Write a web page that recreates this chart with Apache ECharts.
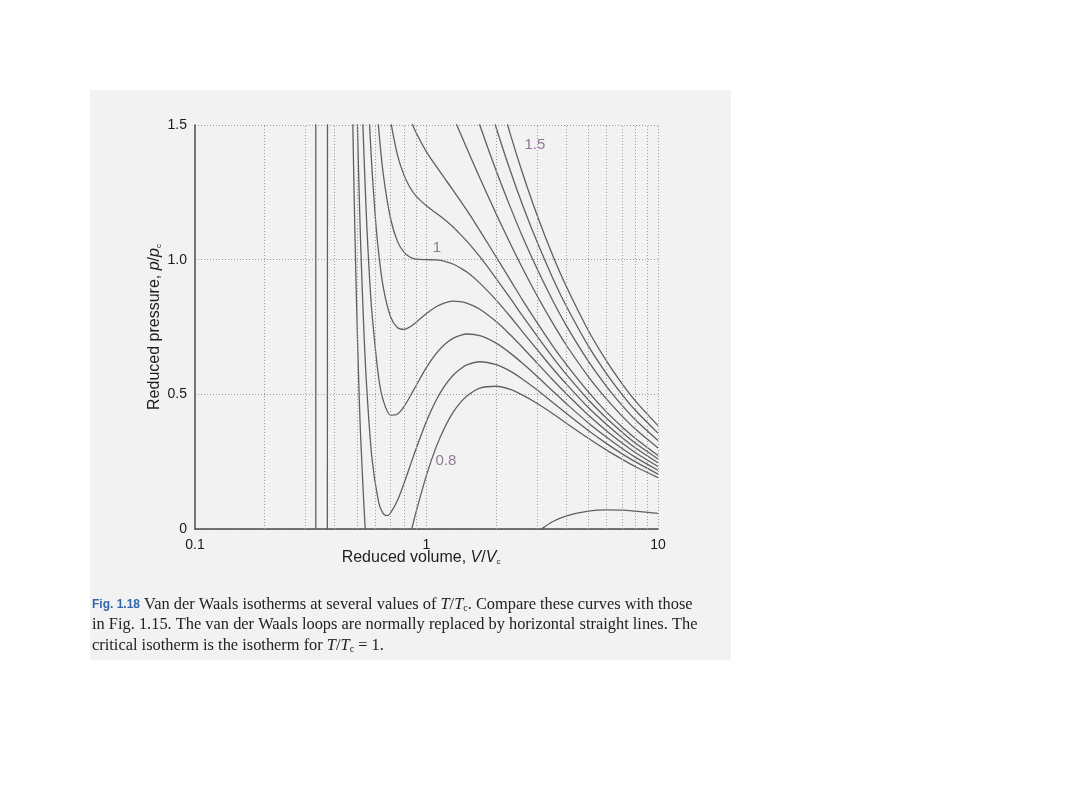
<!DOCTYPE html>
<html><head><meta charset="utf-8">
<script src="https://cdn.jsdelivr.net/npm/echarts@6/dist/echarts.min.js"></script>
<style>html,body{margin:0;padding:0;background:#fff}#c{width:1080px;height:810px}</style>
</head><body><div id="c"></div>
<script>
// ---- Data (reduced volume V/Vc, reduced pressure p/pc) ----
const xTickValues = [0.1, 1, 10];
const yTickLabels = ['0', '0.5', '1.0', '1.5'];
const xGridValues = [0.2,0.3,0.4,0.5,0.6,0.7,0.8,0.9,1,2,3,4,5,6,7,8,9,10];

const lineA_V = [0.3325, 0.3325];
const lineA_p = [-0.05, 1.6];

const lowLeft_V = [0.3735, 0.373];
const lowLeft_p = [1.6, -0.05];
const lowRight_V = [3.0, 3.2, 3.5, 4, 5, 6, 7, 8, 10];
const lowRight_p = [-0.013, 0.005, 0.027, 0.048, 0.066, 0.071, 0.07, 0.066, 0.058];

const t080_V = [0.47,0.48,0.49,0.5,0.51,0.52,0.55,0.58,0.62,0.65,0.7,0.75,0.8,0.85,0.9,1.0,1.1,1.2,1.3,1.4,1.5,1.7,2.0,2.3,2.6,3.0,3.5,4,5,6,7,8,10];
const t080_p = [2.03,1.524,1.122,0.8,0.541,0.334,-0.071,-0.269,-0.362,-0.364,-0.304,-0.213,-0.116,-0.023,0.061,0.2,0.304,0.378,0.432,0.469,0.495,0.523,0.53,0.518,0.497,0.467,0.429,0.394,0.337,0.293,0.259,0.231,0.191];

const t085_V = [0.49,0.5,0.51,0.52,0.535,0.55,0.58,0.62,0.65,0.68,0.7,0.75,0.8,0.85,0.9,1.0,1.1,1.2,1.3,1.4,1.5,1.7,2.0,2.3,2.6,3.0,3.5,4,5,6,7,8,10];
const t085_p = [1.973,1.6,1.296,1.048,0.76,0.545,0.271,0.103,0.057,0.05,0.06,0.107,0.17,0.235,0.296,0.4,0.478,0.532,0.57,0.594,0.61,0.621,0.61,0.586,0.556,0.517,0.471,0.431,0.366,0.317,0.279,0.249,0.204];

const t090_V = [0.51,0.52,0.53,0.55,0.565,0.58,0.62,0.65,0.7,0.75,0.8,0.85,0.9,1.0,1.1,1.2,1.3,1.4,1.5,1.7,2.0,2.3,2.6,3.0,3.5,4,5,6,7,8,10];
const t090_p = [2.05,1.762,1.523,1.16,0.962,0.812,0.568,0.478,0.423,0.427,0.455,0.493,0.531,0.6,0.651,0.686,0.708,0.719,0.724,0.718,0.69,0.653,0.615,0.567,0.513,0.467,0.394,0.341,0.299,0.266,0.218];

const t095_V = [0.53,0.55,0.565,0.58,0.6,0.62,0.65,0.7,0.75,0.8,0.85,0.9,1.0,1.1,1.2,1.3,1.4,1.5,1.7,2.0,2.3,2.6,3.0,3.5,4,5,6,7,8,10];
const t095_p = [2.2,1.775,1.537,1.352,1.167,1.033,0.899,0.787,0.747,0.741,0.751,0.767,0.8,0.825,0.84,0.846,0.844,0.838,0.816,0.77,0.721,0.674,0.617,0.555,0.504,0.423,0.364,0.319,0.283,0.232];

const t100_V = [0.55,0.58,0.6,0.62,0.65,0.7,0.75,0.8,0.85,0.9,1.0,1.1,1.2,1.3,1.4,1.5,1.7,2.0,2.3,2.6,3.0,3.5,4,5,6,7,8,10];
const t100_p = [2.391,1.893,1.667,1.498,1.32,1.151,1.067,1.027,1.009,1.002,1.0,0.999,0.994,0.984,0.969,0.953,0.913,0.85,0.789,0.732,0.667,0.597,0.54,0.451,0.388,0.339,0.301,0.246];

const t105_V = [0.62,0.66,0.68,0.7,0.75,0.8,0.85,0.9,1.0,1.1,1.2,1.3,1.4,1.5,1.7,2.0,2.3,2.6,3.0,3.5,4,5,6,7,8,10];
const t105_p = [1.963,1.684,1.589,1.514,1.387,1.313,1.267,1.237,1.2,1.173,1.148,1.122,1.094,1.067,1.011,0.93,0.857,0.791,0.717,0.639,0.576,0.48,0.411,0.359,0.318,0.26];

const t110_V = [0.7,0.75,0.8,0.85,0.9,1.0,1.1,1.2,1.3,1.4,1.5,1.7,2.0,2.3,2.6,3.0,3.5,4,5,6,7,8,10];
const t110_p = [1.878,1.707,1.598,1.525,1.473,1.4,1.347,1.301,1.259,1.219,1.181,1.108,1.01,0.925,0.85,0.767,0.681,0.613,0.509,0.434,0.379,0.336,0.273];

const t120_V = [1.0,1.1,1.2,1.3,1.4,1.5,1.7,2.0,2.3,2.6,3.0,3.5,4,5,6,7,8,10];
const t120_p = [1.8,1.695,1.609,1.535,1.469,1.41,1.303,1.17,1.06,0.968,0.867,0.766,0.685,0.566,0.482,0.419,0.37,0.301];

const t130_V = [1.4,1.5,1.7,2.0,2.3,2.6,3.0,3.5,4,5,6,7,8,10];
const t130_p = [1.719,1.638,1.499,1.33,1.196,1.085,0.967,0.85,0.758,0.623,0.529,0.459,0.405,0.329];

const t140_V = [1.7,2.0,2.3,2.6,3.0,3.5,4,5,6,7,8,10];
const t140_p = [1.694,1.49,1.331,1.203,1.067,0.934,0.831,0.68,0.576,0.499,0.44,0.356];

const t150_V = [2.0,2.3,2.6,3.0,3.5,4,5,6,7,8,10];
const t150_p = [1.65,1.467,1.321,1.167,1.018,0.904,0.737,0.623,0.539,0.475,0.384];

const curveLabelText = ['1.5', '1', '0.8'];
const curveLabelV = [2.94, 1.11, 1.214];
const curveLabelP = [1.425, 1.043, 0.252];

// ---- build ----
function pairs(V, p) { return V.map((v, i) => [v, p[i]]); }
const curves = [
  ['lineA', lineA_V, lineA_p], ['lowLeft', lowLeft_V, lowLeft_p], ['lowRight', lowRight_V, lowRight_p],
  ['0.8', t080_V, t080_p], ['0.85', t085_V, t085_p], ['0.9', t090_V, t090_p], ['0.95', t095_V, t095_p],
  ['1', t100_V, t100_p], ['1.05', t105_V, t105_p], ['1.1', t110_V, t110_p], ['1.2', t120_V, t120_p],
  ['1.3', t130_V, t130_p], ['1.4', t140_V, t140_p], ['1.5', t150_V, t150_p]
];
const curveColor = '#606064';
const series = [{
  type: 'line', name: 'grid', data: [[1, -5]], showSymbol: false, silent: true,
  lineStyle: { opacity: 0 }, z: 1,
  markLine: {
    silent: true, symbol: ['none', 'none'], label: { show: false },
    lineStyle: { type: [1, 2], color: '#9c9c9c', width: 1 },
    emphasis: { disabled: true },
    data: xGridValues.map(v => ({ xAxis: v }))
  }
}];
curves.forEach(c => series.push({
  type: 'line', name: c[0], data: pairs(c[1], c[2]), showSymbol: false, silent: true,
  smooth: 0.3, clip: true, z: 3,
  lineStyle: { color: curveColor, width: 1.3 }
}));
series.push({
  type: 'scatter', name: 'labels', symbolSize: 0, silent: true, z: 4,
  data: curveLabelV.map((v, i) => [v, curveLabelP[i], curveLabelText[i]]),
  label: { show: true, position: 'inside', formatter: p => p.data[2],
    color: '#7b5a7e', fontSize: 15, fontFamily: 'Liberation Sans, Arial, sans-serif' }
});

const serif = 'Liberation Serif, Times New Roman, serif';
const sans = 'Liberation Sans, Arial, sans-serif';
const capRich = {
  fig: { fill: '#3366aa', fontSize: 12, fontWeight: 'bold', fontFamily: sans },
  r: { fill: '#222', fontSize: 16.4, fontFamily: serif },
  i: { fill: '#222', fontSize: 16.4, fontFamily: serif, fontStyle: 'italic' },
  s: { fill: '#222', fontSize: 10, fontFamily: serif, verticalAlign: 'bottom' }
};
const axRich = {
  n: { fill: '#1e1e1e', fontSize: 16, fontFamily: sans },
  i: { fill: '#1e1e1e', fontSize: 16, fontFamily: sans, fontStyle: 'italic' },
  s: { fill: '#1e1e1e', fontSize: 8, fontFamily: sans, verticalAlign: 'bottom' }
};

const chart = echarts.init(document.getElementById('c'), null, { renderer: 'canvas' });
chart.setOption({
  animation: false,
  backgroundColor: '#ffffff',
  graphic: [
    { type: 'rect', z: -100, shape: { x: 90, y: 90, width: 641, height: 570 }, style: { fill: '#f2f2f2' } },
    { type: 'text', x: 421, y: 558, style: { text: '{n|Reduced volume, }{i|V}{n|/}{i|V}{s|c}', rich: axRich, align: 'center', verticalAlign: 'middle' } },
    { type: 'text', x: 155, y: 327, rotation: Math.PI / 2, style: { text: '{n|Reduced pressure, }{i|p}{n|/}{i|p}{s|c}', rich: axRich, align: 'center', verticalAlign: 'middle' } },
    { type: 'text', x: 92, y: 605, style: { text: '{fig|Fig. 1.18}{r| Van der Waals isotherms at several values of }{i|T}{r|/}{i|T}{s|c}{r|. Compare these curves with those}', rich: capRich, verticalAlign: 'middle' } },
    { type: 'text', x: 92, y: 625, style: { text: '{r|in Fig. 1.15. The van der Waals loops are normally replaced by horizontal straight lines. The}', rich: capRich, verticalAlign: 'middle' } },
    { type: 'text', x: 92, y: 646, style: { text: '{r|critical isotherm is the isotherm for }{i|T}{r|/}{i|T}{s|c}{r| = 1.}', rich: capRich, verticalAlign: 'middle' } }
  ],
  grid: { left: 195, right: 422, top: 125, bottom: 281, containLabel: false },
  xAxis: {
    type: 'log', logBase: 10, min: xTickValues[0], max: xTickValues[2],
    axisLine: { show: true, lineStyle: { color: '#4a4a4a', width: 1.5 } },
    axisTick: { show: false },
    splitLine: { show: false },
    axisLabel: { color: '#1a1a1a', fontSize: 14, fontFamily: sans, margin: 9,
      formatter: v => String(v) }
  },
  yAxis: {
    type: 'value', min: 0, max: 1.5, interval: 0.5,
    axisLine: { show: true, lineStyle: { color: '#4a4a4a', width: 1.5 } },
    axisTick: { show: false },
    splitLine: { show: true, lineStyle: { type: [1, 2], color: '#9c9c9c', width: 1 } },
    axisLabel: { color: '#1a1a1a', fontSize: 14, fontFamily: sans, margin: 8,
      formatter: v => yTickLabels[Math.round(v / 0.5)] }
  },
  series: series
});
</script></body></html>
